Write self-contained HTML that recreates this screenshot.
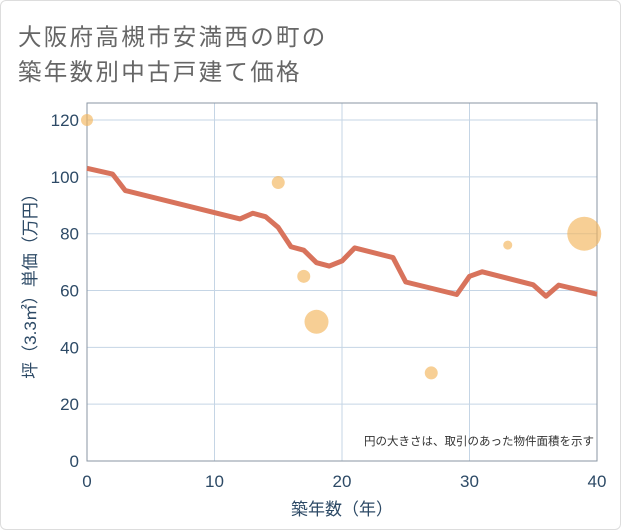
<!DOCTYPE html>
<html><head><meta charset="utf-8"><style>
body{margin:0;background:#fff;}
#wrap{position:relative;width:619px;height:528px;border:1px solid #ddd;border-radius:6px;overflow:hidden;font-family:"Liberation Sans","Noto Sans CJK JP",sans-serif;}
.title{position:absolute;left:17px;font-size:23.5px;color:#666;letter-spacing:2.3px;white-space:nowrap;}
</style></head><body>
<div id="wrap">
<div class="title" style="top:17px">大阪府高槻市安満西の町の</div>
<div class="title" style="top:52px">築年数別中古戸建て価格</div>
<svg id="chart" width="621" height="530" style="position:absolute;left:-1px;top:-1px"></svg>
</div>
<script>
const lineX=[0,2,3,12,13,14,15,16,17,18,19,20,21,24,25,29,30,31,35,36,37,40];
const lineY=[103,101,95.2,85.2,87.2,86,82.2,75.4,74.2,69.8,68.6,70.4,75,71.6,63,58.6,65,66.6,62,58,61.9,58.7];
const bubX=[0,15,17,18,27,33,39];
const bubY=[120,98,65,49,31,76,80];
const bubR=[6,6.5,6.5,12,6.5,4.5,17];
const xTicks=[0,10,20,30,40];
const yTicks=[0,20,40,60,80,100,120];
const NS="http://www.w3.org/2000/svg";
const svg=document.getElementById('chart');
const L=87,R=597,T=103,B=461;
const sx=v=>L+(v-0)/40*(R-L);
const sy=v=>B-v/126*(B-T);
function mk(t,a){const e=document.createElementNS(NS,t);for(const k in a)e.setAttribute(k,a[k]);svg.appendChild(e);return e;}
xTicks.forEach(v=>{
 const g=mk('line',{x1:sx(v),x2:sx(v),y1:T,y2:B,stroke:'#c5d5e5','stroke-width':1});
 
 
 const t=mk('text',{x:sx(v),y:B+26,'text-anchor':'middle','font-size':17,fill:'#2d4a66'});
 t.textContent=v;
 
 
});
yTicks.forEach(v=>{
 const g=mk('line',{x1:L,x2:R,y1:sy(v),y2:sy(v),stroke:'#c5d5e5','stroke-width':1});
 
 
 const t=mk('text',{x:L-8,y:sy(v)+6,'text-anchor':'end','font-size':17,fill:'#2d4a66'});
 t.textContent=v;
 
 
});
const frame=mk('rect',{x:L,y:T,width:R-L,height:B-T,fill:'none',stroke:'#8a96a3','stroke-width':1});


bubX.forEach((v,i)=>{
 const c=mk('circle',{cx:sx(v),cy:sy(bubY[i]),r:bubR[i],fill:'#f2b65c','fill-opacity':0.65});
 
 
});
const p=mk('polyline',{points:lineX.map((v,i)=>sx(v)+','+sy(lineY[i])).join(' '),fill:'none',stroke:'#d8735c','stroke-width':5,'stroke-linejoin':'round'});


const note=mk('text',{x:R-3,y:B-16,'text-anchor':'end','font-size':11.5,fill:'#333'});
note.textContent='円の大きさは、取引のあった物件面積を示す';


const xt=mk('text',{x:(L+R)/2,y:515,'text-anchor':'middle','font-size':17,fill:'#2d4a66'});
xt.textContent='築年数（年）';


const yt=mk('text',{x:0,y:0,'text-anchor':'middle','font-size':17,fill:'#2d4a66',transform:'translate(36,'+((T+B)/2)+') rotate(-90)'});
yt.textContent='坪（3.3㎡）単価（万円）';


</script>
</body></html>
